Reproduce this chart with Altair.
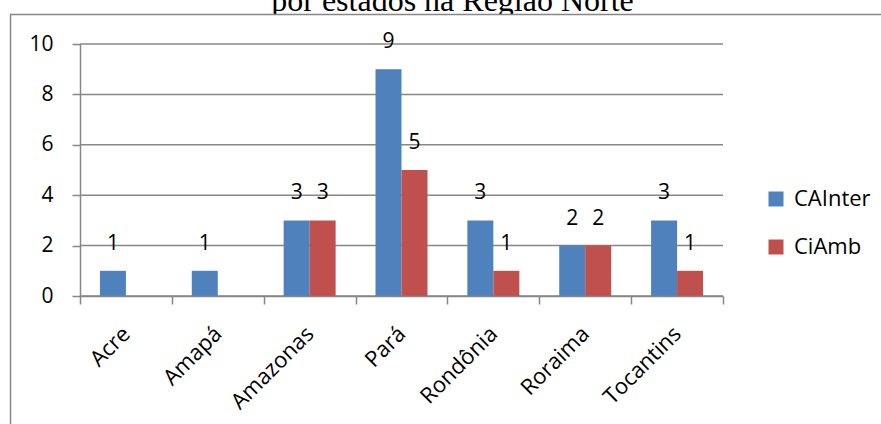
import altair as alt
import pandas as pd

# Data: number of records per state, two series
estados = ["Acre", "Amapá", "Amazonas", "Pará", "Rondônia", "Roraima", "Tocantins"]
series = ["CAInter", "CiAmb"]
cainter = [1, 1, 3, 9, 3, 2, 3]
ciamb = [None, None, 3, 5, 1, 2, 1]
y_ticks = [0, 2, 4, 6, 8, 10]
titulo = "por estados na Região Norte"
cores = ["#4F81BD", "#C0504D"]

rows = []
for i, est in enumerate(estados):
    for nome, vals in zip(series, [cainter, ciamb]):
        if vals[i] is not None:
            rows.append({"estado": est, "serie": nome, "valor": vals[i]})
df = pd.DataFrame(rows)

W, H = 643, 252
GRAY = "#878787"
FONT = "Open Sans"

y_scale = alt.Scale(domain=[0, 10], nice=False, zero=True)
y_axis = alt.Axis(
    title=None, values=y_ticks, grid=False, zindex=1,
    domainColor=GRAY, domainWidth=1.5, tickColor=GRAY, tickWidth=1.5, tickSize=8,
    labelFont=FONT, labelFontSize=21, labelColor="black", labelPadding=19,
)
x_enc = alt.X(
    "estado:N", sort=estados,
    scale=alt.Scale(domain=estados, paddingInner=0, paddingOuter=0),
    axis=alt.Axis(
        title=None, labelAngle=-45, labelAlign="right", labelBaseline="middle",
        labelFont=FONT, labelFontSize=22, labelColor="black", labelPadding=26,
        tickBand="extent", tickSize=8, tickColor=GRAY, tickWidth=1.5,
        domainColor=GRAY, domainWidth=1.5, grid=False, zindex=1,
    ),
)
xoff_enc = alt.XOffset(
    "serie:N", sort=series,
    scale=alt.Scale(domain=series, paddingInner=0, paddingOuter=0.767),
)
color_enc = alt.Color(
    "serie:N",
    scale=alt.Scale(domain=series, range=cores),
    legend=alt.Legend(
        title=None, orient="none", legendX=685, legendY=144, padding=0,
        symbolType="square", symbolSize=225, symbolStrokeWidth=0,
        labelFont=FONT, labelFontSize=22, labelColor="black",
        labelOffset=7, rowPadding=26,
    ),
)

# Title line (second line of a two-line title, top line sits above the page)
title_layer = alt.Chart(pd.DataFrame({"t": [titulo]})).mark_text(
    font="Liberation Serif", fontSize=32, align="center", baseline="alphabetic", color="black"
).encode(x=alt.value(372.5), y=alt.value(-33), text="t:N")

# Chart frame drawn over the title's descenders
frame = alt.Chart(pd.DataFrame({"k": [0]})).mark_rect(
    fill="white", stroke=GRAY, strokeWidth=1.5
).encode(x=alt.value(-69.5), x2=alt.value(900), y=alt.value(-29.5), y2=alt.value(700))

grid = alt.Chart(pd.DataFrame({"v": y_ticks})).mark_rule(
    color=GRAY, strokeWidth=1.5
).encode(y=alt.Y("v:Q", scale=y_scale, axis=y_axis))

bars = alt.Chart(df).mark_bar().encode(
    x=x_enc, xOffset=xoff_enc,
    y=alt.Y("valor:Q", scale=y_scale, axis=y_axis),
    color=color_enc,
)

labels = alt.Chart(df).mark_text(
    font=FONT, fontSize=21, color="black", baseline="middle", align="center", dy=-27
).encode(
    x=x_enc, xOffset=xoff_enc,
    y=alt.Y("valor:Q", scale=y_scale, axis=y_axis),
    text="valor:Q",
)

chart = alt.layer(title_layer, frame, grid, bars, labels).properties(
    width=W, height=H,
    autosize=alt.AutoSizeParams(type="none"),
    padding={"left": 80, "top": 44, "right": 881 - 80 - W, "bottom": 424 - 44 - H},
    background="white",
).configure_view(stroke=None)

chart.save("out.html", embed_options={"renderer": "svg", "actions": False})
